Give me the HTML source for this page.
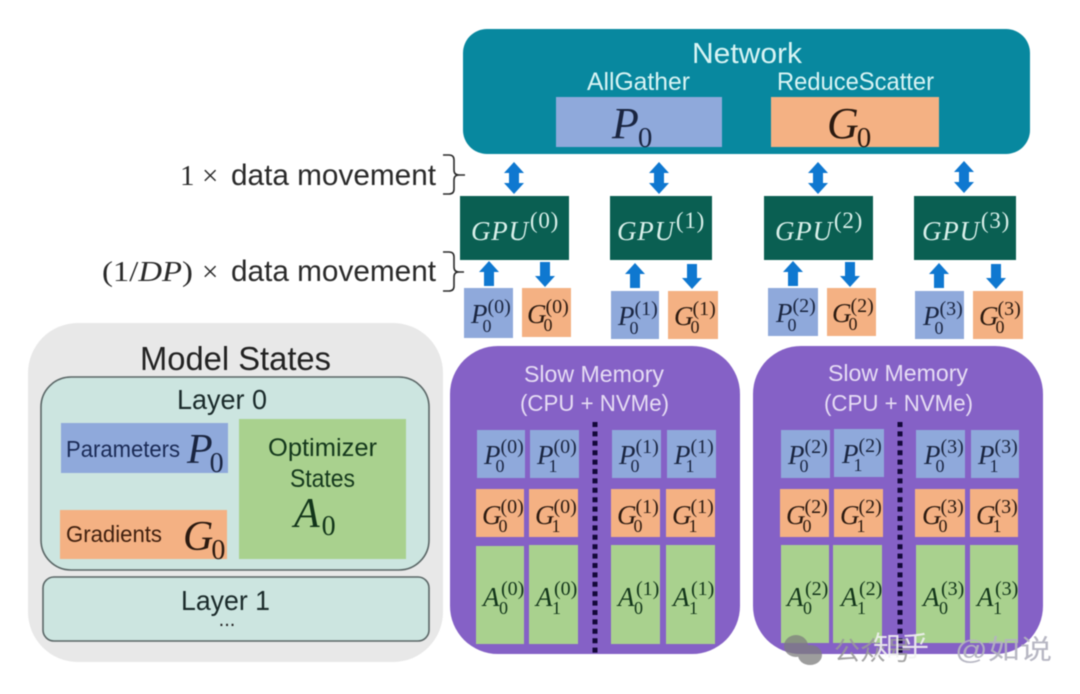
<!DOCTYPE html>
<html><head><meta charset="utf-8">
<style>
html,body{margin:0;padding:0;background:#fff;width:1080px;height:694px;overflow:hidden}
svg{display:block;filter:blur(.4px)}
text{font-family:"Liberation Sans","Noto Sans CJK SC",sans-serif}
.m{font-family:"Liberation Serif",serif;font-style:italic;font-size:27px;fill:#1a2540}
.m .b{font-size:18px;font-style:normal}
.m .t{font-size:20px;font-style:normal}
.g{fill:#2b1a10}.a{fill:#12351a}
</style></head><body>
<svg width="1080" height="694" viewBox="0 0 1080 694" xmlns="http://www.w3.org/2000/svg">
<defs>
<path id="dbl" d="M0 0L10 11H5V21H10L0 32L-10 21H-5V11H-10Z"/>
<path id="up" d="M0 0L10 11H5V25H-5V11H-10Z"/>
<path id="dn" d="M0 25L10 14H5V0H-5V14H-10Z"/>
</defs>
<!-- Network -->
<rect x="463" y="29" width="567" height="125" rx="24" fill="#08889f"/>
<text x="692" y="63" font-size="29" fill="#d8f4f4" textLength="110" lengthAdjust="spacingAndGlyphs">Network</text>
<text x="587" y="90" font-size="25" fill="#d8f4f4" textLength="103" lengthAdjust="spacingAndGlyphs">AllGather</text>
<text x="777" y="90" font-size="25" fill="#d8f4f4" textLength="157" lengthAdjust="spacingAndGlyphs">ReduceScatter</text>
<rect x="556" y="97" width="166" height="50" fill="#8fa9db"/>
<rect x="771" y="97" width="168" height="50" fill="#f4b183"/>
<text class="m" x="612" y="138" style="font-size:44px">P<tspan dy="9" dx="-1" style="font-size:29px;font-style:normal">0</tspan></text>
<text class="m g" x="827" y="138" style="font-size:44px">G<tspan dy="9" dx="-2" style="font-size:29px;font-style:normal">0</tspan></text>

<!-- left labels -->
<g fill="#2a2a2a">
<text x="180" y="185" font-size="29" style="font-family:'Liberation Serif',serif">1</text>
<text x="202" y="185" font-size="29" style="font-family:'Liberation Serif',serif">×</text>
<text x="231" y="185" font-size="30" textLength="205" lengthAdjust="spacingAndGlyphs">data movement</text>
<text x="102" y="281" font-size="29" textLength="91" lengthAdjust="spacingAndGlyphs" style="font-family:'Liberation Serif',serif">(1/<tspan font-style="italic">DP</tspan>)</text>
<text x="202" y="281" font-size="29" style="font-family:'Liberation Serif',serif">×</text>
<text x="231" y="281" font-size="30" textLength="205" lengthAdjust="spacingAndGlyphs">data movement</text>
</g>
<path d="M443 155H449Q454 155 454 160V170Q454 175 459 175H465M459 175Q454 175 454 180V189Q454 194 449 194H443" fill="none" stroke="#2a2a2a" stroke-width="1.6"/>
<path d="M443 252H449Q454 252 454 257V267Q454 272 459 272H464M459 272Q454 272 454 277V286Q454 291 449 291H443" fill="none" stroke="#2a2a2a" stroke-width="1.6"/>

<!-- arrows -->
<g fill="#0f78d0">
<use href="#dbl" x="514" y="162"/><use href="#dbl" x="659" y="162"/><use href="#dbl" x="818" y="162"/><use href="#dbl" x="964" y="161"/>
<use href="#up" x="489" y="261"/><use href="#dn" x="545" y="262"/>
<use href="#up" x="635" y="263"/><use href="#dn" x="692" y="264"/>
<use href="#up" x="793" y="261"/><use href="#dn" x="850" y="262"/>
<use href="#up" x="939" y="263"/><use href="#dn" x="996" y="264"/>
</g>

<!-- GPUs -->
<g fill="#0a5f52">
<rect x="460" y="196" width="109" height="64"/>
<rect x="610" y="196" width="102" height="64"/>
<rect x="764" y="196" width="109" height="64"/>
<rect x="914" y="196" width="102" height="64"/>
</g>
<text class="m" style="font-size:27px;fill:#d9f0ea" x="471" y="240" letter-spacing=".8">GPU<tspan dy="-12" style="font-size:23px;font-style:normal" dx="1">(0)</tspan></text>
<text class="m" style="font-size:27px;fill:#d9f0ea" x="617" y="240" letter-spacing=".8">GPU<tspan dy="-12" style="font-size:23px;font-style:normal" dx="1">(1)</tspan></text>
<text class="m" style="font-size:27px;fill:#d9f0ea" x="775" y="240" letter-spacing=".8">GPU<tspan dy="-12" style="font-size:23px;font-style:normal" dx="1">(2)</tspan></text>
<text class="m" style="font-size:27px;fill:#d9f0ea" x="922" y="240" letter-spacing=".8">GPU<tspan dy="-12" style="font-size:23px;font-style:normal" dx="1">(3)</tspan></text>

<!-- small P/G under GPUs -->
<g fill="#8fa9db">
<rect x="464" y="288" width="49" height="50"/><rect x="611" y="291" width="48" height="48"/><rect x="768" y="288" width="50" height="48"/><rect x="915" y="291" width="49" height="48"/>
</g>
<g fill="#f4b183">
<rect x="522" y="288" width="49" height="49"/><rect x="668" y="291" width="50" height="48"/><rect x="827" y="288" width="49" height="48"/><rect x="973" y="291" width="50" height="48"/>
</g>
<text class="m" x="471" y="323">P<tspan class="b" dy="9" dx="-5">0</tspan><tspan class="t" dy="-19" dx="-4">(0)</tspan></text>
<text class="m g" x="527" y="323">G<tspan class="b" dy="8" dx="-3">0</tspan><tspan class="t" dy="-18" dx="-7">(0)</tspan></text>
<text class="m" x="618" y="325">P<tspan class="b" dy="9" dx="-5">0</tspan><tspan class="t" dy="-19" dx="-4">(1)</tspan></text>
<text class="m g" x="674" y="325">G<tspan class="b" dy="8" dx="-3">0</tspan><tspan class="t" dy="-18" dx="-7">(1)</tspan></text>
<text class="m" x="776" y="322">P<tspan class="b" dy="9" dx="-5">0</tspan><tspan class="t" dy="-19" dx="-4">(2)</tspan></text>
<text class="m g" x="832" y="322">G<tspan class="b" dy="8" dx="-3">0</tspan><tspan class="t" dy="-18" dx="-7">(2)</tspan></text>
<text class="m" x="923" y="325">P<tspan class="b" dy="9" dx="-5">0</tspan><tspan class="t" dy="-19" dx="-4">(3)</tspan></text>
<text class="m g" x="979" y="325">G<tspan class="b" dy="8" dx="-3">0</tspan><tspan class="t" dy="-18" dx="-7">(3)</tspan></text>

<!-- Model States -->
<rect x="28" y="323" width="415" height="339" rx="50" fill="#e8e8e8"/>
<text x="140" y="370" font-size="33" fill="#222" textLength="191" lengthAdjust="spacingAndGlyphs">Model States</text>
<rect x="41" y="377" width="388" height="193" rx="30" fill="#cce5e0" stroke="#5a6666" stroke-width="1.6"/>
<text x="177" y="409" font-size="28" fill="#1a2a2a" textLength="90" lengthAdjust="spacingAndGlyphs">Layer 0</text>
<rect x="61" y="423" width="167" height="50" fill="#8fa9db"/>
<rect x="60" y="510" width="167" height="49" fill="#f4b183"/>
<rect x="239" y="419" width="167" height="140" fill="#a9d18e"/>
<text x="66" y="457" font-size="23" fill="#1a2a55" textLength="114" lengthAdjust="spacingAndGlyphs">Parameters</text>
<text x="66" y="542" font-size="23" fill="#40200f" textLength="96" lengthAdjust="spacingAndGlyphs">Gradients</text>
<text class="m" x="187" y="463" style="font-size:42px">P<tspan dy="9" dx="-3" style="font-size:28px;font-style:normal">0</tspan></text>
<text class="m g" x="183" y="550" style="font-size:42px">G<tspan dy="9" dx="-2" style="font-size:28px;font-style:normal">0</tspan></text>
<text x="268" y="456" font-size="25" fill="#14381c" textLength="109" lengthAdjust="spacingAndGlyphs">Optimizer</text>
<text x="290" y="487" font-size="25" fill="#14381c" textLength="65" lengthAdjust="spacingAndGlyphs">States</text>
<text class="m a" x="294" y="527" style="font-size:42px">A<tspan dy="8" dx="2" style="font-size:28px;font-style:normal">0</tspan></text>
<rect x="43" y="577" width="386" height="64" rx="11" fill="#cce5e0" stroke="#5a6666" stroke-width="1.6"/>
<text x="181" y="610" font-size="28" fill="#1a2a2a" textLength="89" lengthAdjust="spacingAndGlyphs">Layer 1</text>
<text x="227" y="626" text-anchor="middle" font-size="20" fill="#222">...</text>

<!-- Slow memory -->
<rect x="450" y="346" width="290" height="308" rx="48" fill="#8561c6"/>
<rect x="753" y="346" width="290" height="308" rx="48" fill="#8561c6"/>
<g fill="#e6dcf4" font-size="23">
<text x="524" y="382" textLength="140" lengthAdjust="spacingAndGlyphs">Slow Memory</text>
<text x="520" y="411" textLength="149" lengthAdjust="spacingAndGlyphs">(CPU + NVMe)</text>
<text x="828" y="381" textLength="140" lengthAdjust="spacingAndGlyphs">Slow Memory</text>
<text x="824" y="411" textLength="149" lengthAdjust="spacingAndGlyphs">(CPU + NVMe)</text>
</g>
<line x1="595" y1="422" x2="595" y2="654" stroke="#14083a" stroke-width="5" stroke-dasharray="5 4.4"/>
<line x1="900" y1="422" x2="900" y2="654" stroke="#14083a" stroke-width="5" stroke-dasharray="5 4.4"/>

<g fill="#8fa9db">
<rect x="477" y="430" width="48" height="48"/><rect x="530" y="430" width="49" height="48"/><rect x="612" y="430" width="49" height="48"/><rect x="667" y="430" width="49" height="48"/>
<rect x="781" y="430" width="49" height="48"/><rect x="834" y="429" width="50" height="48"/><rect x="916" y="430" width="49" height="48"/><rect x="971" y="430" width="48" height="48"/>
</g>
<g fill="#f4b183">
<rect x="476" y="489" width="48" height="48"/><rect x="529" y="489" width="49" height="48"/><rect x="611" y="489" width="49" height="48"/><rect x="666" y="489" width="49" height="48"/>
<rect x="780" y="489" width="49" height="48"/><rect x="834" y="489" width="49" height="48"/><rect x="915" y="489" width="50" height="48"/><rect x="970" y="489" width="48" height="48"/>
</g>
<g fill="#a9d18e">
<rect x="476" y="546" width="48" height="98"/><rect x="529" y="545" width="49" height="99"/><rect x="611" y="545" width="49" height="99"/><rect x="666" y="545" width="49" height="99"/>
<rect x="781" y="545" width="48" height="98"/><rect x="833" y="545" width="49" height="98"/><rect x="916" y="545" width="49" height="98"/><rect x="970" y="545" width="48" height="98"/>
</g>

<!-- cell labels: P -->
<text class="m" x="484" y="464">P<tspan class="b" dy="8" dx="-5">0</tspan><tspan class="t" dy="-19" dx="-4">(0)</tspan></text>
<text class="m" x="537" y="464">P<tspan class="b" dy="8" dx="-5">1</tspan><tspan class="t" dy="-19" dx="-4">(0)</tspan></text>
<text class="m" x="619" y="464">P<tspan class="b" dy="8" dx="-5">0</tspan><tspan class="t" dy="-19" dx="-4">(1)</tspan></text>
<text class="m" x="674" y="464">P<tspan class="b" dy="8" dx="-5">1</tspan><tspan class="t" dy="-19" dx="-4">(1)</tspan></text>
<text class="m" x="788" y="464">P<tspan class="b" dy="8" dx="-5">0</tspan><tspan class="t" dy="-19" dx="-4">(2)</tspan></text>
<text class="m" x="842" y="463">P<tspan class="b" dy="8" dx="-5">1</tspan><tspan class="t" dy="-19" dx="-4">(2)</tspan></text>
<text class="m" x="924" y="464">P<tspan class="b" dy="8" dx="-5">0</tspan><tspan class="t" dy="-19" dx="-4">(3)</tspan></text>
<text class="m" x="978" y="464">P<tspan class="b" dy="8" dx="-5">1</tspan><tspan class="t" dy="-19" dx="-4">(3)</tspan></text>
<!-- G -->
<text class="m g" x="482" y="524">G<tspan class="b" dy="8" dx="-3">0</tspan><tspan class="t" dy="-19" dx="-7">(0)</tspan></text>
<text class="m g" x="535" y="524">G<tspan class="b" dy="8" dx="-3">1</tspan><tspan class="t" dy="-19" dx="-7">(0)</tspan></text>
<text class="m g" x="617" y="524">G<tspan class="b" dy="8" dx="-3">0</tspan><tspan class="t" dy="-19" dx="-7">(1)</tspan></text>
<text class="m g" x="672" y="524">G<tspan class="b" dy="8" dx="-3">1</tspan><tspan class="t" dy="-19" dx="-7">(1)</tspan></text>
<text class="m g" x="786" y="524">G<tspan class="b" dy="8" dx="-3">0</tspan><tspan class="t" dy="-19" dx="-7">(2)</tspan></text>
<text class="m g" x="840" y="524">G<tspan class="b" dy="8" dx="-3">1</tspan><tspan class="t" dy="-19" dx="-7">(2)</tspan></text>
<text class="m g" x="922" y="524">G<tspan class="b" dy="8" dx="-3">0</tspan><tspan class="t" dy="-19" dx="-7">(3)</tspan></text>
<text class="m g" x="976" y="524">G<tspan class="b" dy="8" dx="-3">1</tspan><tspan class="t" dy="-19" dx="-7">(3)</tspan></text>
<!-- A -->
<text class="m a" x="483" y="606">A<tspan class="b" dy="8" dx="-.5">0</tspan><tspan class="t" dy="-19" dx="-7">(0)</tspan></text>
<text class="m a" x="536" y="606">A<tspan class="b" dy="8" dx="-.5">1</tspan><tspan class="t" dy="-19" dx="-7">(0)</tspan></text>
<text class="m a" x="618" y="606">A<tspan class="b" dy="8" dx="-.5">0</tspan><tspan class="t" dy="-19" dx="-7">(1)</tspan></text>
<text class="m a" x="673" y="606">A<tspan class="b" dy="8" dx="-.5">1</tspan><tspan class="t" dy="-19" dx="-7">(1)</tspan></text>
<text class="m a" x="787" y="606">A<tspan class="b" dy="8" dx="-.5">0</tspan><tspan class="t" dy="-19" dx="-7">(2)</tspan></text>
<text class="m a" x="841" y="606">A<tspan class="b" dy="8" dx="-.5">1</tspan><tspan class="t" dy="-19" dx="-7">(2)</tspan></text>
<text class="m a" x="923" y="606">A<tspan class="b" dy="8" dx="-.5">0</tspan><tspan class="t" dy="-19" dx="-7">(3)</tspan></text>
<text class="m a" x="977" y="606">A<tspan class="b" dy="8" dx="-.5">1</tspan><tspan class="t" dy="-19" dx="-7">(3)</tspan></text>

<!-- watermark -->
<g fill="#7d7d7d" opacity=".75">
<ellipse cx="796" cy="646" rx="12" ry="11"/>
<ellipse cx="810" cy="655" rx="12" ry="10"/>
</g>
<text x="834" y="660" font-size="26" fill="#9a9a9a" opacity=".9">公众号</text>
<text x="873" y="656" font-size="28" fill="#f2f2f2" opacity=".9">知乎</text>
<text x="955" y="659" font-size="27" fill="#b4b4c0" opacity=".95" textLength="97" lengthAdjust="spacingAndGlyphs">@如说</text>
</svg>
</body></html>
